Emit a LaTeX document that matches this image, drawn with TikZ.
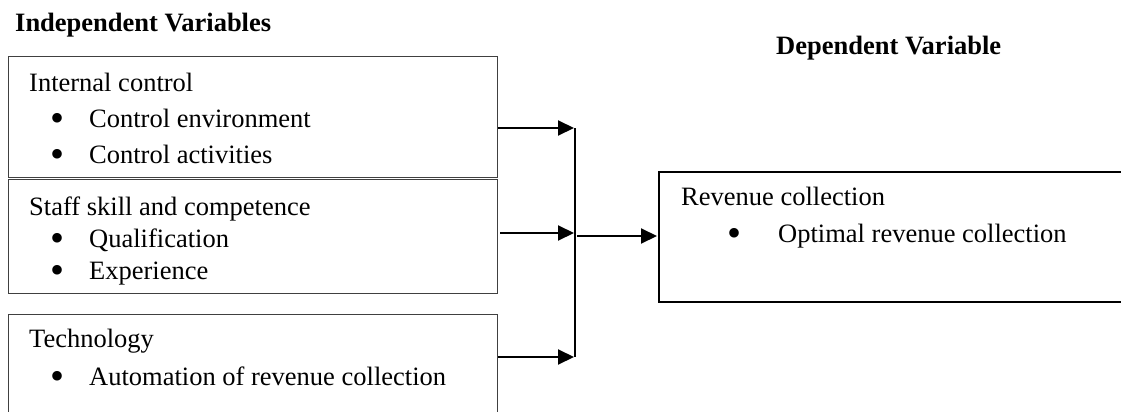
\documentclass[tikz,border=0pt]{standalone}
\usepackage{fontspec}
\setmainfont{Liberation Serif}
\usetikzlibrary{arrows.meta}
\tikzset{
  x=1pt, y=-1pt,
  every node/.style={font=\fontsize{26.5}{30}\selectfont},
  varbox/.style={draw=black!75, line width=1.4pt, inner sep=0pt, anchor=north west},
  depbox/.style={draw=black, line width=2pt, inner sep=0pt, anchor=north west},
  txt/.style={inner sep=0pt, anchor=base west},
  bul/.style={inner sep=0pt, anchor=base, yshift=-4.5pt, font=\fontsize{40}{40}\selectfont},
  head/.style={inner sep=0pt, anchor=base west, font=\fontsize{26.5}{30}\selectfont\bfseries},
  arr/.style={line width=2pt, -{Triangle[length=16pt, width=15pt]}},
  bus/.style={line width=1.6pt}
}
\begin{document}
\begin{tikzpicture}
\useasboundingbox (0,0) rectangle (1121,412);
\clip (0,0) rectangle (1121,412);

% headings
\node[head] (hind) at (15,32) {Independent Variables};
\node[head] (hdep) at (776,55) {Dependent Variable};

% independent variable boxes
\node[varbox, minimum width=489pt, minimum height=121pt] (ic) at (8,56) {};
\node[txt] (ict) at (29,91) {Internal control};
\node[bul] (icb1) at (58,127) {\textbullet};
\node[txt] (ic1) at (89,127) {Control environment};
\node[bul] (icb2) at (58,163) {\textbullet};
\node[txt] (ic2) at (89,163) {Control activities};

\node[varbox, minimum width=489pt, minimum height=114pt] (ss) at (8,179) {};
\node[txt] (sst) at (29,215) {Staff skill and competence};
\node[bul] (ssb1) at (58,247) {\textbullet};
\node[txt] (ss1) at (89,247) {Qualification};
\node[bul] (ssb2) at (58,279) {\textbullet};
\node[txt] (ss2) at (89,279) {Experience};

\node[varbox, minimum width=489pt, minimum height=106pt] (te) at (8,314) {};
\node[txt] (tet) at (29,347) {Technology};
\node[bul] (teb1) at (58,385) {\textbullet};
\node[txt] (te1) at (89,385) {Automation of revenue collection};

% dependent variable box
\node[depbox, minimum width=480pt, minimum height=130pt] (rc) at (658,171) {};
\node[txt] (rct) at (681,205) {Revenue collection};
\node[bul] (rcb1) at (734,242) {\textbullet};
\node[txt] (rc1) at (778,242) {Optimal revenue collection};

% collecting line and arrows
\coordinate (b1) at (575,128);
\coordinate (b2) at (575,233);
\coordinate (b3) at (575,357);
\coordinate (bm) at (577,236);

\draw[bus] (b1) -- (b3);
\draw[arr, shorten >=1pt] (ic.east |- b1) -- (b1);
\draw[arr, shorten >=1pt] ([xshift=2pt]ss.east |- b2) -- (b2);
\draw[arr, shorten >=1pt] (te.east |- b3) -- (b3);
\draw[arr, shorten >=1pt] (bm) -- (rc.west |- bm);
\end{tikzpicture}
\end{document}
